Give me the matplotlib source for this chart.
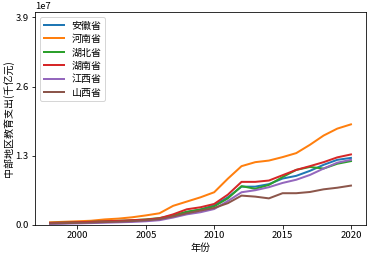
import matplotlib
matplotlib.use("Agg")
import matplotlib.pyplot as plt

plt.rcParams['font.family'] = ['Noto Sans CJK SC', 'DejaVu Sans']
plt.rcParams['axes.unicode_minus'] = False

years = list(range(1998, 2021))
provinces = ['安徽省', '河南省', '湖北省', '湖南省', '江西省', '山西省']

anhui = [0.030, 0.035, 0.042, 0.050, 0.060, 0.068, 0.078, 0.090, 0.110, 0.170, 0.240, 0.290, 0.370,
         0.520, 0.720, 0.720, 0.767, 0.872, 0.923, 1.017, 1.130, 1.224, 1.260]
henan = [0.050, 0.060, 0.070, 0.080, 0.105, 0.120, 0.145, 0.180, 0.220, 0.360, 0.440, 0.520, 0.615,
         0.870, 1.105, 1.180, 1.210, 1.275, 1.350, 1.506, 1.680, 1.810, 1.890]
hubei = [0.040, 0.045, 0.052, 0.060, 0.070, 0.078, 0.090, 0.105, 0.130, 0.180, 0.250, 0.290, 0.350,
         0.500, 0.730, 0.680, 0.753, 0.900, 1.035, 1.090, 1.060, 1.150, 1.200]
hunan = [0.040, 0.045, 0.052, 0.060, 0.070, 0.078, 0.090, 0.100, 0.126, 0.200, 0.295, 0.333, 0.395,
         0.570, 0.810, 0.810, 0.835, 0.935, 1.035, 1.105, 1.180, 1.270, 1.325]
jiangxi = [0.020, 0.025, 0.030, 0.036, 0.043, 0.050, 0.058, 0.070, 0.090, 0.140, 0.200, 0.240, 0.300,
           0.450, 0.615, 0.653, 0.710, 0.790, 0.850, 0.940, 1.060, 1.170, 1.224]
shanxi = [0.030, 0.035, 0.040, 0.047, 0.055, 0.063, 0.073, 0.088, 0.110, 0.160, 0.220, 0.270, 0.320,
          0.410, 0.552, 0.533, 0.500, 0.597, 0.597, 0.620, 0.670, 0.700, 0.740]

series = [anhui, henan, hubei, hunan, jiangxi, shanxi]
yticks = [0.0, 1.3e7, 2.6e7, 3.9e7]

DPI = 72
fig = plt.figure(figsize=(368 / DPI, 255 / DPI), dpi=DPI)
ax = fig.add_axes([35 / 368, 1 - 225 / 255, 331 / 368, 213 / 255])
for name, vals in zip(provinces, series):
    ax.plot(years, [v * 1e7 for v in vals], label=name, linewidth=2)

ax.set_ylim(0, 4.0e7)
ax.set_yticks(yticks)
ax.tick_params(labelsize=9.5, length=3.5, pad=3)
ax.yaxis.get_offset_text().set_fontsize(9.5)
ax.set_xlabel('年份', fontsize=10, labelpad=2)
ax.set_ylabel('中部地区教育支出(千亿元)', fontsize=10, labelpad=1)
ax.legend(loc='upper left', fontsize=10, labelspacing=0.35, borderpad=0.35)

fig.savefig('out.png', dpi=DPI)
